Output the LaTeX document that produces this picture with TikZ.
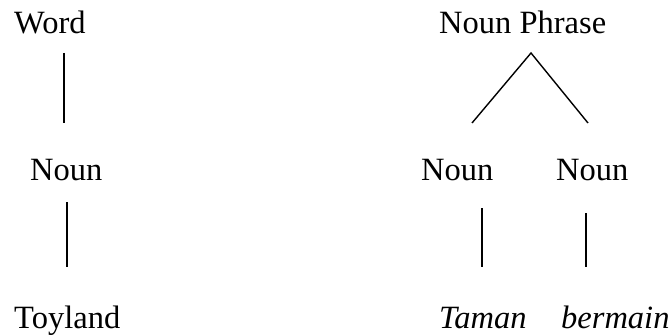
\documentclass[tikz,border=0pt]{standalone}
\usepackage{fontspec}
\setmainfont{Liberation Serif}
\begin{document}
\begin{tikzpicture}[x=1pt,y=1pt,
  lbl/.style={anchor=base west,inner sep=0pt,font=\fontsize{32.5}{36}\selectfont},
  branch/.style={line width=1.4pt}]
\useasboundingbox (0,0) rectangle (669,335);
% left tree
\node[lbl] (word) at (14,301) {Word};
\node[lbl] (nounA) at (30,154) {Noun};
\node[lbl] (toy) at (14,7) {Toyland};
% right tree
\node[lbl] (np) at (439,301) {Noun Phrase};
\node[lbl] (nounB) at (421,154) {Noun};
\node[lbl] (nounC) at (556,154) {Noun};
\node[lbl] (taman) at (439,7) {\itshape Taman};
\node[lbl] (bermain) at (561,7) {\itshape bermain};
% connector ends
\coordinate (w1) at (64,282);
\coordinate (w2) at (64,212);
\coordinate (n1) at (67,133);
\coordinate (n2) at (67,68);
\coordinate (apex) at (531,282);
\coordinate (lb) at (472,212);
\coordinate (rb) at (588,212);
\coordinate (b1) at (482,127);
\coordinate (b2) at (482,68);
\coordinate (c1) at (586,122);
\coordinate (c2) at (586,68);
\draw[branch] (w1) -- (w2);
\draw[branch] (n1) -- (n2);
\draw[branch] (lb) -- (apex) -- (rb);
\draw[branch] (b1) -- (b2);
\draw[branch] (c1) -- (c2);
\end{tikzpicture}
\end{document}
